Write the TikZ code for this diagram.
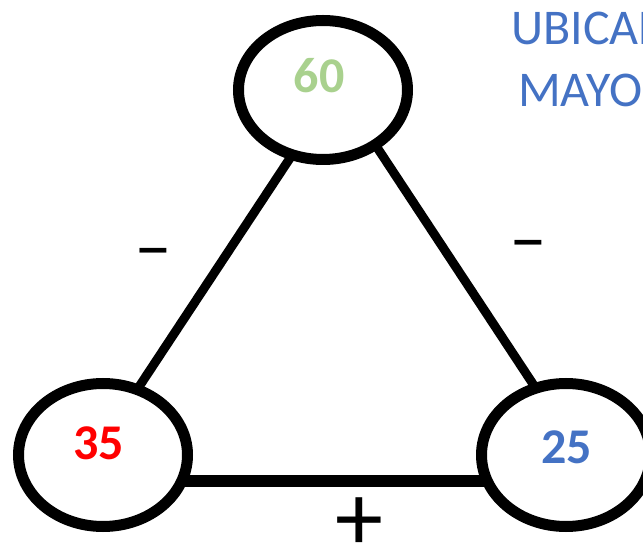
\documentclass[tikz,border=0pt]{standalone}
\usepackage{fontspec}
\setmainfont{Carlito}
\usetikzlibrary{shapes.geometric}
\definecolor{ublue}{RGB}{68,114,196}
\definecolor{ugreen}{RGB}{169,209,142}
\definecolor{ured}{RGB}{255,0,0}

\begin{document}
\begin{tikzpicture}[x=1pt,y=1pt,
  ring/.style={draw,ellipse,line width=11pt,minimum width=169pt,minimum height=143pt,inner sep=0pt},
  num/.style={font=\fontsize{50}{60}\selectfont\bfseries,anchor=base,inner sep=0pt},
  sign/.style={font=\fontsize{72}{80}\selectfont,inner sep=0pt},
  edge/.style={line width=9pt,shorten <=-3pt,shorten >=-3pt}]
\useasboundingbox (0,0) rectangle (643,544);
\clip (0,0) rectangle (643,544);

\node[ring,minimum height=139pt] (e60) at (323,454) {};
\node[ring] (e35) at (103,89) {};
\node[ring] (e25) at (566,89) {};

\node[num,text=ugreen] (t60) at (319,451) {60};
\node[num,text=ured] (t35) at (98.5,84) {35};
\node[num,text=ublue] (t25) at (566.5,81) {25};

\draw[edge] (e60.244) -- (e35.62);
\draw[edge] (e60.313) -- (e25.115);
\draw[line width=12pt,shorten <=-3pt,shorten >=-3pt] (e35.-17) -- (e25.197);

\node[sign] (m1) at (153,283) {−};
\node[sign] (m2) at (528,291) {−};
\node[font=\fontsize{96}{100}\selectfont,inner sep=0pt] (plus) at (359.5,20) {+};

\node[font=\fontsize{50}{60}\selectfont,text=ublue,anchor=base west,inner sep=0pt] (l1) at (511,499) {UBICAR};
\node[font=\fontsize{50}{60}\selectfont,text=ublue,anchor=base west,inner sep=0pt] (l2) at (518,437) {MAYOR};
\end{tikzpicture}
\end{document}
